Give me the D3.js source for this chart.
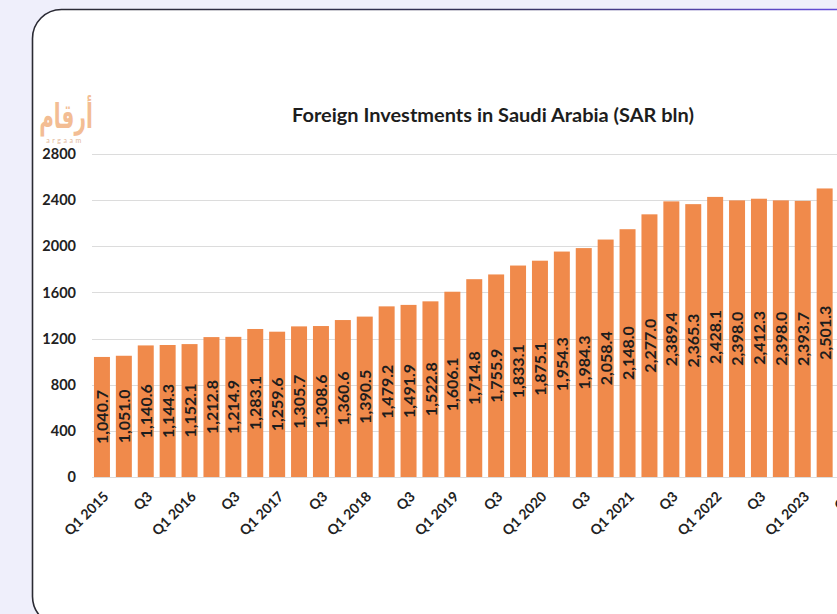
<!DOCTYPE html>
<html>
<head>
<meta charset="utf-8">
<script src="https://cdn.jsdelivr.net/npm/d3@7"></script>
<style>
  html, body { margin: 0; padding: 0; background: #efeffb; overflow: hidden; }
  svg { display: block; }
</style>
</head>
<body>
<svg id="chart" width="837" height="614"></svg>
<script>
// ---- Data ----
const categories = [
  "Q1 2015","Q2 2015","Q3 2015","Q4 2015",
  "Q1 2016","Q2 2016","Q3 2016","Q4 2016",
  "Q1 2017","Q2 2017","Q3 2017","Q4 2017",
  "Q1 2018","Q2 2018","Q3 2018","Q4 2018",
  "Q1 2019","Q2 2019","Q3 2019","Q4 2019",
  "Q1 2020","Q2 2020","Q3 2020","Q4 2020",
  "Q1 2021","Q2 2021","Q3 2021","Q4 2021",
  "Q1 2022","Q2 2022","Q3 2022","Q4 2022",
  "Q1 2023","Q2 2023","Q3 2023"
];
const values = [
  1040.7, 1051.0, 1140.6, 1144.3,
  1152.1, 1212.8, 1214.9, 1283.1,
  1259.6, 1305.7, 1308.6, 1360.6,
  1390.5, 1479.2, 1491.9, 1522.8,
  1606.1, 1714.8, 1755.9, 1833.1,
  1875.1, 1954.3, 1984.3, 2058.4,
  2148.0, 2277.0, 2389.4, 2365.3,
  2428.1, 2398.0, 2412.3, 2398.0,
  2393.7, 2501.3
];
const tickLabels = [
  "Q1 2015","Q3","Q1 2016","Q3","Q1 2017","Q3","Q1 2018","Q3",
  "Q1 2019","Q3","Q1 2020","Q3","Q1 2021","Q3","Q1 2022","Q3",
  "Q1 2023","Q3"
];
const yTicks = [0, 400, 800, 1200, 1600, 2000, 2400, 2800];
const title = "Foreign Investments in Saudi Arabia (SAR bln)";

// ---- Drawing ----
const svg = d3.select("#chart");
const W = 837, H = 614;
const font = "Lato, 'Open Sans', sans-serif";

const defs = svg.append("defs");
const grad = defs.append("linearGradient").attr("id", "borderGrad")
  .attr("x1", "0").attr("y1", "0").attr("x2", "1").attr("y2", "0");
grad.append("stop").attr("offset", "0").attr("stop-color", "#2a2a33");
grad.append("stop").attr("offset", "0.55").attr("stop-color", "#34325a");
grad.append("stop").attr("offset", "1").attr("stop-color", "#6a4fe8");

// card
svg.append("rect")
  .attr("x", 32.5).attr("y", 9.5)
  .attr("width", 840).attr("height", 616)
  .attr("rx", 29).attr("ry", 29)
  .attr("fill", "#ffffff")
  .attr("stroke", "url(#borderGrad)")
  .attr("stroke-width", 1.6);

const step = 21.9;
const x0 = 91;
const x = d3.scaleBand()
  .domain(categories)
  .range([x0, x0 + categories.length * step])
  .paddingInner(0.27)
  .paddingOuter(0.135);

const y = d3.scaleLinear().domain([0, 2800]).range([477, 154]);

// gridlines
svg.append("g")
  .selectAll("line")
  .data(yTicks)
  .join("line")
  .attr("x1", 92).attr("x2", W)
  .attr("y1", d => Math.round(y(d)) + 0.5)
  .attr("y2", d => Math.round(y(d)) + 0.5)
  .attr("stroke", "#dcdcdc")
  .attr("stroke-width", 1);

// y tick labels
const yAxis = d3.axisLeft(y).tickValues(yTicks).tickFormat(d3.format("d")).tickSize(0).tickPadding(0);
const gy = svg.append("g").attr("transform", "translate(76,0)").call(yAxis);
gy.select(".domain").remove();
gy.selectAll("text")
  .attr("font-family", font)
  .attr("font-size", 14.5)
  .attr("font-weight", 700)
  .attr("fill", "#222");

// bars
const data = values.map((v, i) => ({ cat: categories[i], v }));
svg.append("g")
  .selectAll("rect")
  .data(data)
  .join("rect")
  .attr("x", d => x(d.cat))
  .attr("width", x.bandwidth())
  .attr("y", d => y(d.v))
  .attr("height", d => y(0) - y(d.v))
  .attr("fill", "#f08a4b");

// value labels
const fmt = d3.format(",.1f");
svg.append("g")
  .selectAll("text")
  .data(data)
  .join("text")
  .attr("transform", d => `translate(${x(d.cat) + x.bandwidth() / 2 + 0.5},${(y(d.v) + y(0)) / 2}) rotate(-90)`)
  .attr("text-anchor", "middle")
  .attr("dy", "0.35em")
  .attr("font-family", font)
  .attr("font-size", 16)
  .attr("font-weight", 700)
  .attr("fill", "#1d1d1d")
  .text(d => fmt(d.v));

// x tick labels (every other quarter), rotated -45 degrees
const labeled = categories.filter((c, i) => i % 2 === 0).map((c, i) => ({ cat: c, label: tickLabels[i] }));
svg.append("g")
  .selectAll("text")
  .data(labeled)
  .join("text")
  .attr("transform", d => `translate(${x(d.cat) + x.bandwidth() / 2 + 4},494) rotate(-45)`)
  .attr("text-anchor", "end")
  .attr("dy", "0.35em")
  .attr("font-family", font)
  .attr("font-size", 14)
  .attr("font-weight", 700)
  .attr("fill", "#222")
  .text(d => d.label);

// title
svg.append("text")
  .attr("x", 493).attr("y", 122)
  .attr("text-anchor", "middle")
  .attr("font-family", font)
  .attr("font-size", 18.5)
  .attr("font-weight", 700)
  .attr("fill", "#1d1d1d")
  .attr("textLength", 402)
  .attr("lengthAdjust", "spacingAndGlyphs")
  .text(title);

// logo
svg.append("text")
  .attr("transform", "translate(66,128) scale(0.8,1.35)")
  .attr("text-anchor", "middle")
  .attr("font-family", "'DejaVu Sans', sans-serif")
  .attr("font-size", 25)
  .attr("font-weight", 700)
  .attr("fill", "#f3bd94")
  .text("أرقام");
svg.append("text")
  .attr("x", 65).attr("y", 143)
  .attr("text-anchor", "middle")
  .attr("font-family", font)
  .attr("font-size", 7)
  .attr("letter-spacing", 2.5)
  .attr("fill", "#e3b89a")
  .text("argaam");
</script>
</body>
</html>
